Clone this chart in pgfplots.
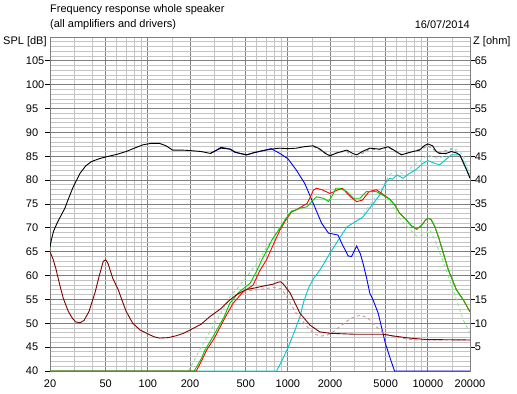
\documentclass[border=0pt]{standalone}
\usepackage{fontspec}
\setmainfont{Liberation Sans}
\usepackage{pgfplots}
\pgfplotsset{compat=1.18}
\definecolor{gridmaj}{RGB}{128,128,128}
\definecolor{gridmin}{RGB}{196,196,196}
\definecolor{cgreen}{RGB}{0,200,0}
\definecolor{ccyan}{RGB}{0,200,200}
\definecolor{cdred}{RGB}{128,0,0}
\definecolor{cpink}{RGB}{200,150,150}
\definecolor{clgreen}{RGB}{140,230,140}
\definecolor{clcyan}{RGB}{140,225,225}
\definecolor{cgray}{RGB}{150,150,150}
\begin{document}
\fontsize{11bp}{13bp}\selectfont
\begin{tikzpicture}[x=1bp,y=1bp]
\path[use as bounding box] (0,0) rectangle (517,393);
\begin{axis}[
  at={(50bp,22bp)}, anchor=south west,
  scale only axis, width=420bp, height=334bp,
  xmode=log, xmin=20, xmax=20000,
  ymin=40, ymax=110,
  tick align=outside, major tick length=5bp, minor tick length=0pt,
  tick label style={font=\fontsize{11bp}{13bp}\selectfont},
  /pgf/number format/assume math mode=true,
  axis line style={draw=gridmaj, line width=1bp},
  xtick={20,50,100,200,500,1000,2000,5000,10000,20000},
  xticklabels={20,50,100,200,500,1000,2000,5000,10000,20000},
  minor xtick={30,40,60,70,80,90,150,300,400,600,700,800,900,1500,3000,4000,6000,7000,8000,9000,15000},
  ytick={40,45,...,105},
  minor ytick={41,42,43,44,46,47,48,49,51,52,53,54,56,57,58,59,61,62,63,64,66,67,68,69,71,72,73,74,76,77,78,79,81,82,83,84,86,87,88,89,91,92,93,94,96,97,98,99,101,102,103,104,106,107,108,109},
  grid=both,
  major grid style={draw=gridmaj, line width=0.9bp},
  minor grid style={draw=gridmin, line width=0.9bp},
  xtick pos=left, ytick pos=left,
  xtick style={draw=none},
  ytick style={draw=black, line width=1bp},
  yticklabel style={anchor=west, xshift=-23bp},
  every axis plot/.append style={line width=0.9bp},
]
% light dashed variants
\addplot[clgreen, dashed, mark=none] coordinates {(195,40)(230,44)(280,48.5)(330,52)(385,55.5)(450,57.8)(520,60.2)(600,62.5)(700,65.8)(800,68.2)(876,70.2)(960,72.0)(1060,73.6)};
\addplot[clgreen, dashed, mark=none] coordinates {(5340,75.5)(6270,72.0)(7000,70.5)(8300,68.3)(9200,68.5)(10300,69.6)(11200,67.5)(12700,63.3)(14000,59.8)(16000,54.9)(17900,50.7)(20000,47.9)};
\addplot[clcyan, dashed, mark=none] coordinates {(3440,72.8)(4000,75.5)(4530,77.6)(5340,81.2)(6010,81.9)(6650,81.3)(8300,83.5)(10000,85.3)(11000,84.8)(12100,84.5)(13500,85.5)(15000,86.7)(16900,86.2)(18000,84.8)(19000,83.0)(20000,81.0)};
\addplot[cgray, dashed, mark=none] coordinates {(1518,87.0)(1700,86.3)(2000,85.3)(2300,85.9)(2640,86.0)(2900,85.0)(3100,84.7)(3400,85.6)(3847,86.5)(4500,86.4)(5200,86.9)(5800,86.0)(6470,85.4)(7830,86.0)(9400,86.8)(10000,87.2)(11500,86.0)(12100,85.8)(13500,86.2)(14700,86.6)(16000,86.0)(16900,85.3)(18000,83.8)(20000,80.6)};
% tweeter
\addplot[ccyan, mark=none] coordinates {(20,40)(830,40)(900,42.0)(1000,44.8)(1125,48.6)(1220,51.4)(1297,54.5)(1400,57.3)(1518,59.3)(1640,60.6)(1750,61.8)(2000,64.7)(2300,67.5)(2640,70.2)(3000,71.2)(3440,72.3)(4000,74.8)(4530,76.9)(5000,79.5)(5340,80.4)(5600,80.2)(6010,81.1)(6650,80.4)(7200,81.2)(8300,82.3)(9200,83.5)(10000,84.1)(11000,83.6)(12100,83.2)(13300,84.2)(14700,85.3)(16900,85.3)(18000,83.8)(19000,82.0)(20000,80.5)};
% woofer
\addplot[blue, mark=none] coordinates {(280,85.6)(310,86.3)(333,86.9)(360,86.7)(387,86.5)(420,85.8)(455,85.6)(506,85.3)(580,85.8)(668,86.2)(760,86.6)(876,85.6)(1000,84.5)(1150,82.1)(1320,79.3)(1520,75.1)(1740,71.0)(1950,68.9)(2280,68.5)(2450,66.5)(2700,64.1)(2850,64.0)(3100,66.2)(3300,64.5)(3440,62.6)(3650,59.5)(3850,56.3)(4060,54.9)(4420,52.1)(4950,46.0)(5400,42.5)(5780,40)(20000,40)};
% mid (red)
\addplot[red, mark=none] coordinates {(20,40)(222,40)(245,42.5)(263,44.4)(300,47.0)(350,50.8)(406,54.2)(480,56.6)(564,58.0)(630,61.0)(704,63.3)(760,65.5)(876,69.5)(960,71.5)(1060,73.3)(1150,73.8)(1370,75.1)(1450,76.5)(1520,77.9)(1600,78.3)(1750,78.0)(2000,77.2)(2250,77.9)(2450,78.3)(2800,76.5)(3100,75.5)(3400,75.8)(3800,77.6)(4280,78.0)(4800,77.0)(5340,76.0)(5800,74.8)(6270,73.1)(7000,71.7)(7600,70.5)(8300,69.7)(9000,70.5)(9600,71.6)(10000,72.0)(10500,71.8)(11200,70.3)(12000,67.8)(12800,65.0)(14000,61.2)(16000,57.0)(18000,54.8)(20000,52.4)};
% mid (green)
\addplot[cgreen, mark=none] coordinates {(20,40)(214,40)(240,42.5)(256,44.4)(300,47.8)(350,51.3)(385,54.2)(450,56.6)(538,58.4)(600,61.0)(651,63.3)(700,65.0)(760,67.2)(876,69.9)(960,71.8)(1060,73.5)(1150,73.8)(1250,74.2)(1370,74.4)(1480,75.5)(1600,76.5)(1800,76.2)(1950,75.5)(2100,77.0)(2200,78.3)(2350,78.3)(2640,77.6)(2940,76.2)(3270,76.2)(3640,77.6)(4280,77.6)(4800,76.8)(5340,76.0)(5800,74.8)(6270,73.1)(7000,71.7)(7600,70.5)(8300,69.7)(9000,70.5)(9600,71.6)(10000,72.0)(10500,71.8)(11200,70.3)(12000,67.8)(12800,65.0)(14000,61.2)(16000,57.0)(18000,54.8)(20000,52.4)};
% total
\addplot[black, mark=none] coordinates {(20,66.0)(20.5,67.6)(21.2,69.3)(22,70.4)(23,71.6)(24,72.6)(25.6,74.2)(27,76.0)(29.3,78.6)(32.7,81.4)(36,83.0)(39.6,83.9)(45,84.5)(50.6,84.9)(60,85.4)(70,86.0)(80,86.7)(92,87.4)(105,87.7)(121,87.7)(135,87.2)(150,86.3)(175,86.3)(200,86.2)(240,86.0)(280,85.6)(310,86.3)(333,86.7)(360,86.6)(387,86.5)(420,85.9)(455,85.6)(506,85.3)(580,85.8)(668,86.2)(760,86.5)(876,86.7)(1000,86.6)(1150,86.7)(1300,87.0)(1518,87.2)(1700,86.5)(1850,85.6)(2000,85.1)(2150,85.5)(2300,85.8)(2640,86.3)(2900,85.6)(3100,85.3)(3400,86.0)(3847,86.7)(4500,86.5)(5200,87.0)(5800,86.2)(6470,85.3)(7000,85.6)(7830,86.0)(8740,86.3)(9400,87.2)(10000,87.6)(10800,87.2)(11500,86.0)(12100,85.6)(13500,85.6)(14700,86.0)(16000,85.7)(16900,85.3)(18000,83.5)(19000,82.0)(20000,80.4)};
\end{axis}
\begin{axis}[
  at={(50bp,22bp)}, anchor=south west,
  scale only axis, width=420bp, height=334bp,
  xmode=log, xmin=20, xmax=20000,
  ymin=0, ymax=70,
  axis x line=none, axis y line*=right,
  tick align=outside, major tick length=5bp, minor tick length=0pt,
  tick label style={font=\fontsize{11bp}{13bp}\selectfont},
  /pgf/number format/assume math mode=true,
  axis line style={draw=gridmaj, line width=1bp},
  ytick={5,10,...,65},
  ytick style={draw=black, line width=1bp},
  yticklabel style={anchor=west, xshift=-4bp},
  every axis plot/.append style={line width=0.9bp},
]
\addplot[cpink, dashed, mark=none] coordinates {(440,16.0)(508,16.8)(580,17.0)(668,17.2)(786,17.5)(890,17.3)(960,16.0)(1050,14.0)(1150,12.1)(1370,9.3)(1550,7.8)(1700,7.3)(1900,7.5)(2100,8.2)(2400,9.5)(2800,11.0)(3300,11.7)(3700,11.2)(4200,9.5)(4800,8.0)(5300,7.4)(6000,7.2)(7000,6.7)(8500,6.5)(12000,6.5)(20000,6.5)};
\addplot[cdred, mark=none] coordinates {(20,25.0)(21,23.5)(22,21.5)(23.5,18.0)(24.9,15.2)(27,12.5)(29,11.0)(30.5,10.3)(32.7,10.1)(35,10.6)(38,12.5)(42,16.5)(45,20.0)(48,23.0)(50,23.3)(52,22.5)(56,19.5)(61.5,17.0)(66,14.5)(70,12.5)(78,10.0)(88,8.6)(98,7.9)(110,7.2)(121,6.9)(140,7.0)(160,7.4)(180,7.9)(200,8.6)(240,9.8)(277,11.4)(330,13.0)(385,14.9)(440,16.2)(508,17.1)(580,17.4)(668,17.8)(786,18.2)(850,18.6)(890,18.7)(930,18.2)(1040,16.3)(1220,12.1)(1440,9.6)(1690,8.2)(2000,7.9)(3000,7.7)(4800,7.7)(5800,7.3)(7400,6.9)(9700,6.6)(20000,6.5)};
\end{axis}
\node[anchor=west, inner sep=0] at (50,383) {Frequency response whole speaker};
\node[anchor=west, inner sep=0] at (50,368) {(all amplifiers and drivers)};
\node[anchor=east, inner sep=0] at (470,368) {16/07/2014};
\node[anchor=west, inner sep=0] at (3,351) {SPL [dB]};
\node[anchor=west, inner sep=0] at (473,351) {Z [ohm]};
\end{tikzpicture}
\end{document}
